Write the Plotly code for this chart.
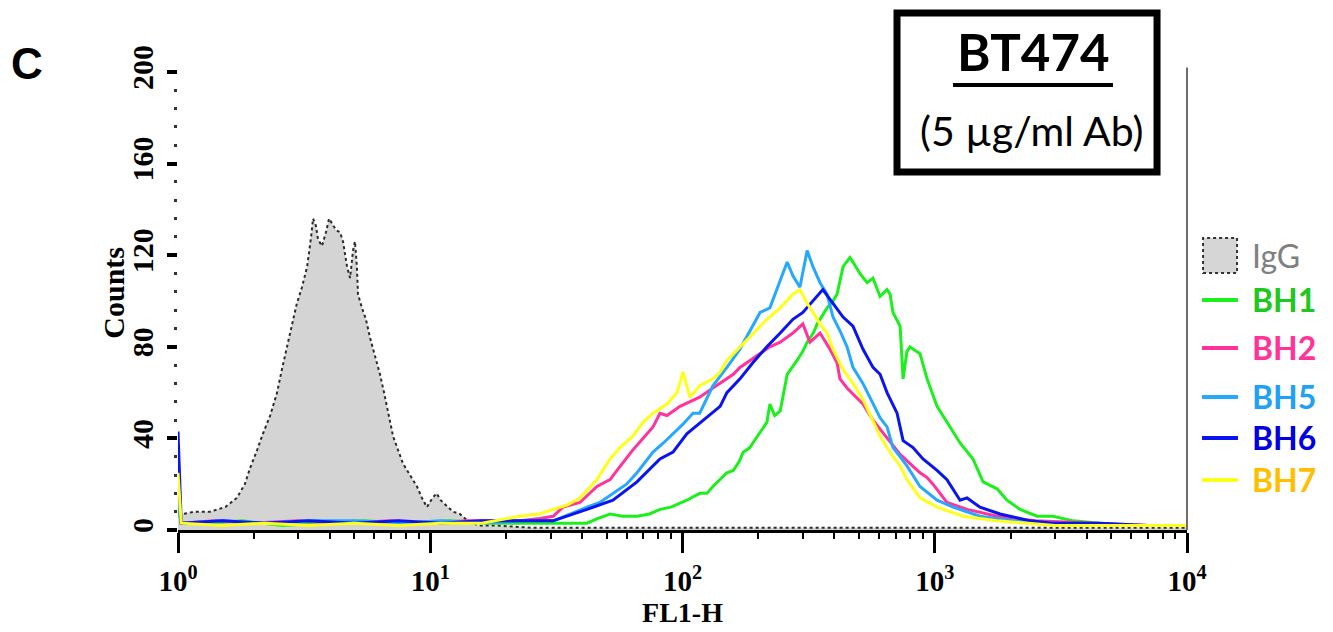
import plotly.graph_objects as go

# FL1-H histogram data (fluorescence intensity vs. event counts)
igg_fl = [1.0, 1.04, 1.17, 1.34, 1.54, 1.71, 1.84, 1.93, 2.06, 2.17, 2.32, 2.47, 2.58, 2.71,
          2.83, 2.96, 3.10, 3.25, 3.37, 3.43, 3.52, 3.59, 3.72, 3.86, 3.97, 4.08, 4.23, 4.39,
          4.51, 4.68, 4.81, 4.94, 5.03, 5.12, 5.17, 5.36, 5.56, 5.77, 6.04, 6.32, 6.56, 6.74,
          6.92, 7.12, 7.45, 7.80, 8.31, 8.86, 9.27, 9.70, 10.2, 10.6, 11.0, 11.7, 12.3, 13.1,
          14.1, 15.5, 18, 25, 40, 70, 120, 200, 400, 700, 1200, 2500, 5000, 10000]
igg_counts = [7, 7, 8, 8, 10, 14, 20, 27, 35, 42, 50, 60, 70, 80,
              90, 99, 106, 115, 128, 136, 133, 127, 124, 130, 136, 134, 131, 130,
              126, 115, 110, 122, 126, 115, 103, 97, 92, 84, 76, 68, 60, 54,
              47, 41, 35, 29, 24, 19, 14, 10, 14, 16, 13, 10, 8, 7,
              4, 2, 2, 1, 1, 1, 1, 1, 1, 1, 1, 1, 1, 1]

bh1_fl = [1.0, 1.03, 1.3, 1.8, 2.6, 3.8, 5.5, 8, 12, 17, 24, 32, 41.8, 46, 51.6, 58, 66, 74,
          81.4, 90, 104, 117, 125, 132, 141, 150, 159, 168, 174, 185, 190, 208, 216, 222, 232,
          244, 260, 284, 300, 312, 330, 342, 360, 374, 395, 410, 433, 461, 474, 505, 539, 569,
          607, 647, 665, 683, 729, 749, 776, 798, 820, 874, 932, 1021, 1150, 1260, 1418, 1554,
          1766, 1934, 2178, 2544, 2943, 3533, 4520, 5944, 7817, 10000]
bh1_counts = [10, 3, 3, 4, 2, 3, 4, 3, 4, 3, 3, 3, 3, 5, 7, 6, 6, 7,
              9, 10, 13, 16, 16, 19, 22, 25, 26, 30, 34, 36, 38, 44, 47, 55, 50,
              52, 68, 74, 78, 82, 86, 90, 94, 97, 100, 103, 115, 119, 117, 112, 108, 110,
              102, 105, 103, 95, 89, 66, 78, 80, 79, 77, 66, 54, 45, 38, 31, 21,
              18, 13, 9, 6, 6, 4, 3, 2, 2, 2]

bh2_fl = [1.0, 1.03, 1.4, 2.0, 3.0, 4.5, 7, 10, 14, 19, 22.7, 27.2, 30.7, 33.6, 39.2, 45.8,
          51.6, 55, 63.6, 69.7, 76.4, 81.4, 86.8, 97.7, 107, 117, 132, 141, 159, 169, 185, 203,
          222, 244, 274, 300, 320, 351, 384, 410, 421, 449, 519, 569, 647, 729, 874, 930, 984,
          1118, 1343, 1766, 2500, 4000, 7000, 10000]
bh2_counts = [15, 3, 4, 3, 4, 3, 4, 3, 4, 4, 4, 5, 6, 10, 12, 19,
              22, 26, 35, 40, 45, 51, 50, 54, 56, 58, 62, 64, 68, 71, 74, 77,
              80, 82, 86, 90, 82, 86, 79, 73, 66, 62, 55, 48, 40, 33, 25, 23, 20,
              12, 9, 6, 4, 3, 2, 2]

bh5_fl = [1.0, 1.03, 1.5, 2.2, 3.3, 5, 7.5, 11, 16, 22, 27, 30.7, 36, 41.8, 47, 53, 60, 66,
          76.4, 84, 91.7, 100, 110, 117, 132, 150, 169, 185, 203, 222, 244, 260, 274, 292, 312,
          329, 351, 374, 395, 421, 449, 474, 519, 569, 607, 647, 683, 729, 776, 874, 1021, 1182,
          1511, 2043, 3000, 5000, 10000]
bh5_counts = [12, 3, 4, 3, 4, 4, 3, 4, 3, 4, 4, 4, 7, 10, 12, 16, 20, 25,
              34, 38, 42, 46, 51, 51, 63, 71, 79, 87, 95, 97, 109, 117, 111, 106, 122,
              115, 108, 103, 93, 87, 80, 71, 64, 55, 49, 45, 36, 32, 28, 19, 13, 10,
              6, 4, 3, 2, 2]

bh6_fl = [1.0, 1.03, 1.5, 2.2, 3.3, 5, 7.5, 11, 16, 22, 27, 30.7, 41.8, 53, 66, 81.4, 91.7,
          104, 121, 141, 150, 169, 190, 216, 244, 274, 300, 329, 360, 395, 433, 474, 519, 569,
          607, 647, 709, 749, 820, 898, 1021, 1118, 1260, 1343, 1511, 1815, 2386, 2943, 4500,
          7000, 10000]
bh6_counts = [43, 3, 4, 3, 4, 3, 4, 3, 4, 4, 4, 4, 9, 13, 21, 31, 34,
              42, 48, 54, 60, 66, 73, 80, 86, 92, 95, 100, 105, 99, 93, 89, 79, 71,
              68, 60, 51, 39, 36, 31, 26, 22, 13, 14, 10, 7, 4, 3, 3,
              2, 2]

bh7_fl = [1.0, 1.03, 1.5, 2.2, 3.3, 5, 7.5, 11, 16, 22.7, 27, 30.7, 35, 39.2, 45.8, 51.6, 56.5,
          63.6, 69.7, 76.4, 86.8, 95.1, 100.5, 107, 117, 132, 141, 150, 169, 190, 216, 244, 274,
          292, 312, 329, 351, 374, 395, 433, 474, 519, 569, 607, 647, 683, 729, 776, 874, 1021,
          1294, 1766, 3000, 10000]
bh7_counts = [25, 3, 2, 3, 2, 3, 2, 3, 3, 6, 7, 9, 11, 14, 22, 31, 36,
              41, 47, 51, 55, 60, 69, 58, 63, 66, 69, 74, 80, 86, 92, 97, 103,
              105, 99, 95, 90, 86, 79, 70, 64, 57, 48, 41, 36, 32, 28, 22, 14, 10,
              6, 4, 2, 2]

series_names = ["BH1", "BH2", "BH5", "BH6", "BH7"]
line_colors = ["#1cf01c", "#ff3399", "#27a8ff", "#0a14f0", "#ffff1a"]
label_colors = ["#1ec81e", "#ff3399", "#1fa2f5", "#0000e0", "#ffbf00"]
series_fl = [bh1_fl, bh2_fl, bh5_fl, bh6_fl, bh7_fl]
series_counts = [bh1_counts, bh2_counts, bh5_counts, bh6_counts, bh7_counts]

x_tickvals = [1, 10, 100, 1000, 10000]
x_ticktext = ["<b>10<sup>%d</sup></b>" % i for i in range(5)]
y_tickvals = [0, 40, 80, 120, 160, 200]

fig = go.Figure()

# isotype control: grey filled histogram with dotted outline
fig.add_trace(go.Scatter(
    x=igg_fl, y=igg_counts, mode="lines", name="IgG",
    fill="tozeroy", fillcolor="#d4d4d4",
    line=dict(color="#2a2a2a", width=2, dash="dot"),
    showlegend=False,
))

for name, fl, cnt, col in zip(series_names, series_fl, series_counts, line_colors):
    fig.add_trace(go.Scatter(
        x=fl, y=cnt, mode="lines", name=name,
        line=dict(color=col, width=3),
        showlegend=False,
    ))

serif = "Liberation Serif"

fig.update_xaxes(
    type="log", range=[0, 4],
    tickvals=x_tickvals, ticktext=x_ticktext,
    ticks="outside", ticklen=20, tickwidth=3, tickcolor="black",
    showline=True, linecolor="black", linewidth=3,
    showgrid=False, zeroline=False,
    tickfont=dict(family=serif, size=29, color="black"),
    ticklabelstandoff=3,
    minor=dict(ticks="outside", ticklen=6, tickwidth=2, tickcolor="black", dtick="D1",
               showgrid=False),
    title=dict(text="<b>FL1-H</b>", font=dict(family=serif, size=28, color="black"),
               standoff=0),
)

fig.update_yaxes(
    range=[0, 200],
    tickvals=y_tickvals, ticktext=["<b>%d</b>" % v for v in y_tickvals],
    tickangle=-90,
    ticks="outside", ticklen=10, tickwidth=4, tickcolor="black",
    showline=False, showgrid=False, zeroline=False,
    tickfont=dict(family=serif, size=30, color="black"),
    ticklabelstandoff=2,
    minor=dict(ticks="outside", ticklen=3, tickwidth=3, tickcolor="#333", dtick=8,
               tick0=0, showgrid=False),
)

shapes = []
annotations = []

# y-axis title placed close to the tick labels
annotations.append(dict(text="<b>Counts</b>", xref="paper", yref="paper", x=-0.0635, y=0.518,
                        xanchor="center", yanchor="middle", showarrow=False, textangle=-90,
                        font=dict(family=serif, size=30, color="black")))

# right boundary of the plotting area
shapes.append(dict(type="line", xref="paper", yref="paper", x0=1, x1=1, y0=0, y1=1.01,
                   line=dict(color="#6e6e6e", width=2)))

# title box
shapes.append(dict(type="rect", xref="paper", yref="paper",
                   x0=0.7126, x1=0.9703, y0=0.7817, y1=1.1288,
                   line=dict(color="black", width=7), fillcolor="white", layer="above"))
shapes.append(dict(type="line", xref="paper", yref="paper",
                   x0=0.7681, x1=0.9267, y0=0.9716, y1=0.9716,
                   line=dict(color="black", width=4), layer="above"))
annotations.append(dict(text="<b>BT474</b>", xref="paper", yref="paper", x=0.8474, y=1.045,
                        xanchor="center", yanchor="middle", showarrow=False,
                        font=dict(family="Lato", size=51, color="black")))
annotations.append(dict(text="(5 µg/ml Ab)", xref="paper", yref="paper", x=0.8454, y=0.873,
                        xanchor="center", yanchor="middle", showarrow=False,
                        font=dict(family="Lato", size=41, color="black")))

# panel letter
annotations.append(dict(text="<b>C</b>", xref="paper", yref="paper", x=-0.1497, y=1.0175,
                        xanchor="center", yanchor="middle", showarrow=False,
                        font=dict(family="Liberation Sans", size=44, color="black")))

# legend
shapes.append(dict(type="rect", xref="paper", yref="paper",
                   x0=1.0159, x1=1.0496, y0=0.5611, y1=0.6376,
                   line=dict(color="#333333", width=2, dash="dot"), fillcolor="#d6d6d6"))
annotations.append(dict(text="IgG", xref="paper", yref="paper", x=1.0624, y=0.5983,
                        xanchor="left", yanchor="middle", showarrow=False,
                        font=dict(family="Lato", size=32, color="#808080")))
legend_rows = [0.5022, 0.3974, 0.2904, 0.2009, 0.1092]
for name, col, tcol, ry in zip(series_names, line_colors, label_colors, legend_rows):
    shapes.append(dict(type="line", xref="paper", yref="paper",
                       x0=1.0149, x1=1.0505, y0=ry, y1=ry,
                       line=dict(color=col, width=4)))
    annotations.append(dict(text="<b>%s</b>" % name, xref="paper", yref="paper",
                            x=1.0624, y=ry, xanchor="left", yanchor="middle",
                            showarrow=False,
                            font=dict(family="Lato", size=32, color=tcol)))

fig.update_layout(
    width=1333, height=632,
    margin=dict(l=178, r=146, t=72, b=102),
    paper_bgcolor="white", plot_bgcolor="white",
    shapes=shapes, annotations=annotations,
    showlegend=False,
)

fig.write_html("out.html")
